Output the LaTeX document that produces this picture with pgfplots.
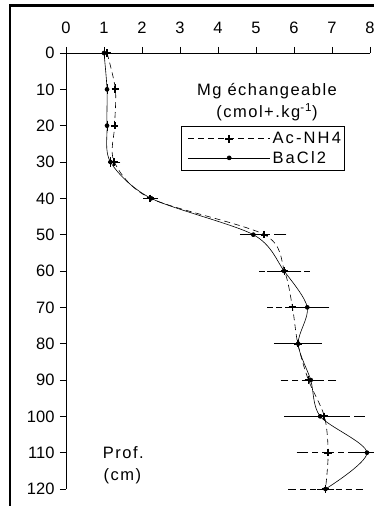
\documentclass[border=0pt]{standalone}
\usepackage{fontspec}
\setmainfont{Liberation Sans}
\usepackage{pgfplots}
\pgfplotsset{compat=1.18}
\usepackage{pgfplotstable}
\pgfplotstableread{
x y e
1.08 0 0.03
1.30 10 0
1.28 20 0
1.27 30 0.03
2.22 40 0.06
5.22 50 0.45
5.75 60 0.53
5.96 70 0.53
6.10 80 0.5
6.38 90 0.6
6.80 100 0.93
6.90 110 0.7
6.83 120 0.85
}\acnh
\pgfplotstableread{
x y e
1.00 0 0
1.08 10 0
1.08 20 0
1.17 30 0
2.24 40 0.05
4.93 50 0.22
5.74 60 0.32
6.35 70 0.45
6.11 80 0.4
6.44 90 0.1
6.69 100 0.55
7.92 110 0.13
6.83 120 0.1
}\bacl
\newfontfamily\spaced[LetterSpace=9]{Liberation Sans}
\newfontfamily\spacedl[LetterSpace=13]{Liberation Sans}
\pgfplotsset{
  acleg/.style={legend image code/.code={
    \path[draw=none] (0pt,0pt) -- (88pt,0pt);
    \draw[black, line width=0.6pt, dash pattern=on 6pt off 4pt] (6pt,0pt) -- (88pt,0pt);
    \draw[##1, draw=none] plot coordinates {(47pt,0pt)};
  }},
  baleg/.style={legend image code/.code={
    \path[draw=none] (0pt,0pt) -- (88pt,0pt);
    \draw[black, line width=0.6pt, solid] (6pt,0pt) -- (88pt,0pt);
    \draw[##1, draw=none] plot coordinates {(47pt,0pt)};
  }},
}
\begin{document}
\begin{tikzpicture}[x=1pt,y=1pt]
\useasboundingbox (0,0) rectangle (374,506);
\begin{axis}[
  at={(66pt,453pt)}, anchor=north west,
  scale only axis, width=304pt, height=436pt,
  xmin=0, xmax=8, ymin=0, ymax=120,
  y dir=reverse,
  axis x line=top, axis y line=left,
  axis line style={-, line width=0.6pt},
  xtick={0,...,8}, ytick={0,10,...,120},
  tick align=outside, major tick length=6pt,
  tick style={line width=0.6pt, black},
  tick label style={font=\fontsize{16.5}{19}\selectfont},
  xticklabel style={yshift=10pt},
  yticklabel style={xshift=-2pt},
  /pgf/number format/assume math mode=true,
  clip=false,
  legend cell align=left,
  legend style={at={(axis description cs:0.378,0.8326)}, anchor=north west,
    draw=black, line width=0.6pt, font=\spacedl\fontsize{16.5}{19}\selectfont,
    row sep=2pt, column sep=0pt, inner xsep=1pt, inner ysep=4pt,
    nodes={inner sep=2pt}},
]
\addplot[black, line width=0.6pt, dash pattern=on 6pt off 4pt, smooth, tension=0.5,
  mark=+, mark size=3.8pt, mark options={solid, line width=1.8pt}, acleg,
  error bars/.cd, x dir=both, x explicit,
  error bar style={dash pattern=on 6pt off 4pt, line width=0.6pt},
  error mark options={dash pattern=on 6pt off 4pt, line width=0.6pt, mark size=5pt}]
  table[x=x, y=y, x error=e] {\acnh};
\addlegendentry{Ac-NH4}
\addplot[black, line width=0.6pt, smooth, tension=0.5,
  mark=*, mark size=2pt, baleg,
  error bars/.cd, x dir=both, x explicit,
  error bar style={solid, line width=0.6pt},
  error mark options={solid, line width=0.6pt, mark size=5pt}]
  table[x=x, y=y, x error=e] {\bacl};
\addlegendentry{BaCl2}
\node[font=\spaced\fontsize{16.5}{19}\selectfont] at (axis cs:5.29,10.5) {Mg échangeable};
\node[font=\spaced\fontsize{16.5}{19}\selectfont] at (axis cs:5.29,16.3) {(cmol+.kg\textsuperscript{-1})};
\node[font=\spaced\fontsize{16.5}{19}\selectfont, anchor=west] at (axis cs:0.88,110.1) {Prof.};
\node[font=\spaced\fontsize{16.5}{19}\selectfont, anchor=west] at (axis cs:0.9,116.4) {(cm)};
\end{axis}
\draw[line width=2.6pt] (10,0) -- (10,500.5) -- (380,500.5);
\end{tikzpicture}
\end{document}
